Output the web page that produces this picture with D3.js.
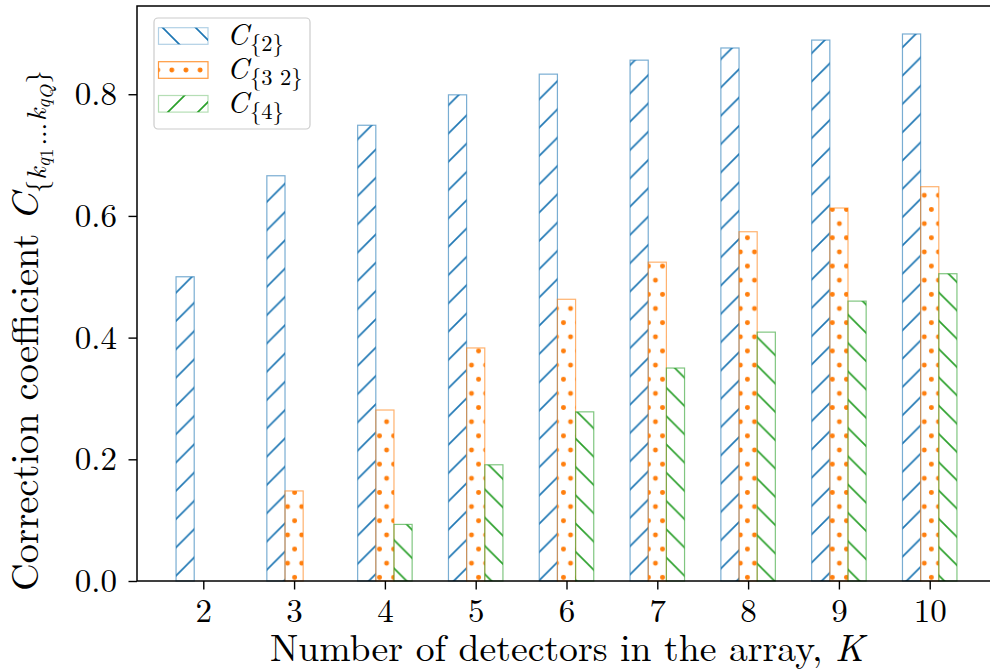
<!DOCTYPE html>
<html>
<head>
<meta charset="utf-8">
<script src="https://cdn.jsdelivr.net/npm/d3@7"></script>
<style>
  body { margin: 0; background: #fff; }
  svg { display: block; }
</style>
</head>
<body>
<script>
// data
var kValues = [2, 3, 4, 5, 6, 7, 8, 9, 10];
var c2 = [0.500, 0.666, 0.749, 0.799, 0.833, 0.856, 0.876, 0.889, 0.899];
var c32 = [0.000, 0.148, 0.281, 0.383, 0.463, 0.524, 0.574, 0.613, 0.648];
var c4 = [0.000, 0.000, 0.093, 0.191, 0.278, 0.350, 0.409, 0.460, 0.505];
var yTicks = [0, 0.2, 0.4, 0.6, 0.8];
var seriesSubs = ["{2}", "{3 2}", "{4}"];
var colors = ["#1f77b4", "#ff7f0e", "#2ca02c"];

var w = 990, h = 671;
var barW = 0.2;
var FONT = "'Latin Modern Roman', 'CMU Serif', 'Liberation Serif', serif";

var svg = d3.select("body").append("svg")
  .attr("width", w)
  .attr("height", h);

var x = d3.scaleLinear().domain([1.27, 10.73]).range([137, 996]);
var y = d3.scaleLinear().domain([0, 0.945]).range([581, 6]);

// hatch patterns
var defs = svg.append("defs");
var P = 28.3;

function lineHatch(id, color, dir, off, per) {
  var pat = defs.append("pattern")
    .attr("id", id)
    .attr("patternUnits", "userSpaceOnUse")
    .attr("width", per).attr("height", per)
    .attr("patternTransform", "translate(" + off + ",0)");
  var d;
  if (dir == "/") {
    d = "M-2,2L2,-2M0," + per + "L" + per + ",0M" + (per - 2) + "," + (per + 2) + "L" + (per + 2) + "," + (per - 2);
  } else {
    d = "M0,0L" + per + "," + per + "M-2," + (per - 2) + "L2," + (per + 2) + "M" + (per - 2) + ",-2L" + (per + 2) + ",2";
  }
  pat.append("path").attr("d", d)
    .attr("stroke", color).attr("stroke-width", 1.7).attr("fill", "none");
}

function dotHatch(id, color, ox, oy) {
  var dx = P / 2, dy = P;
  var pat = defs.append("pattern")
    .attr("id", id)
    .attr("patternUnits", "userSpaceOnUse")
    .attr("width", dx).attr("height", dy)
    .attr("patternTransform", "translate(" + ox + "," + oy + ")");
  [[0, 0], [dx, 0], [0, dy], [dx, dy], [dx / 2, dy / 2]].forEach(function(p) {
    pat.append("circle").attr("cx", p[0]).attr("cy", p[1]).attr("r", 2.4).attr("fill", color);
  });
}

lineHatch("h0", colors[0], "/", 15.9, P);
dotHatch("h1", colors[1], 4.55, 25.5);
lineHatch("h2", colors[2], "\\", 23.8, P);
lineHatch("l0", colors[0], "\\", 3, 33);
dotHatch("l1", colors[1], 2, 70);
lineHatch("l2", colors[2], "/", 10, 30);

// bars
var series = [c2, c32, c4];
series.forEach(function(vals, j) {
  svg.append("g").selectAll("rect")
    .data(vals)
    .enter()
    .append("rect")
    .attr("x", function(d, i) { return x(kValues[i] + (j - 1) * barW - barW / 2); })
    .attr("y", function(d) { return y(d); })
    .attr("width", x(barW) - x(0))
    .attr("height", function(d) { return y(0) - y(d); })
    .attr("fill", "url(#h" + j + ")")
    .attr("stroke", colors[j])
    .attr("stroke-opacity", 0.6)
    .attr("stroke-width", 1.2);
});

// axes
var xAxis = svg.append("g")
  .attr("transform", "translate(0," + y(0) + ")")
  .call(d3.axisBottom(x).tickValues(kValues).tickSize(8.5).tickSizeOuter(0).tickPadding(9));
var yAxis = svg.append("g")
  .attr("transform", "translate(" + x(1.27) + ",0)")
  .call(d3.axisLeft(y).tickValues(yTicks).tickSize(8.5).tickSizeOuter(0).tickPadding(11.5)
    .tickFormat(d3.format(".1f")));

[xAxis, yAxis].forEach(function(a) {
  a.select(".domain").remove();
  a.selectAll("line").attr("stroke", "#000").attr("stroke-width", 1.4);
  a.selectAll("text").style("font-size", "33px").style("font-family", FONT).attr("fill", "#000");
});

// spines
svg.append("rect")
  .attr("x", x(1.27)).attr("y", y(0.945))
  .attr("width", x(10.73) - x(1.27)).attr("height", y(0) - y(0.945))
  .attr("fill", "none").attr("stroke", "#000").attr("stroke-width", 1.5);

function txt(g, t, px, py, size, italic) {
  return g.append("text").attr("x", px).attr("y", py)
    .style("font-family", FONT).style("font-size", size + "px")
    .style("font-style", italic ? "italic" : "normal")
    .text(t);
}

// x label
var xl = svg.append("text").attr("x", 567).attr("y", 661)
  .attr("text-anchor", "middle")
  .style("font-family", FONT).style("font-size", "37.7px");
xl.append("tspan").text("Number of detectors in the array, ");
xl.append("tspan").style("font-style", "italic").text("K");

// y label
var yl = svg.append("g").attr("transform", "translate(0,591) rotate(-90)");
var ylt = yl.append("text").attr("x", 0).attr("y", 38)
  .style("font-family", FONT).style("font-size", "38.5px");
ylt.append("tspan").text("Correction coefficient ");
ylt.append("tspan").style("font-style", "italic").text("C");
ylt.append("tspan").attr("dy", 8).style("font-size", "27px").text("{");
ylt.append("tspan").style("font-size", "27px").style("font-style", "italic").text("k");
ylt.append("tspan").attr("dy", 4).style("font-size", "20px").style("font-style", "italic").text("q");
ylt.append("tspan").attr("dy", 3).style("font-size", "19px").text("1");
ylt.append("tspan").attr("dy", -7).attr("dx", 3).style("font-size", "27px").text("...");
ylt.append("tspan").attr("dx", 2).style("font-size", "27px").style("font-style", "italic").text("k");
ylt.append("tspan").attr("dy", 4).style("font-size", "20px").style("font-style", "italic").text("q");
ylt.append("tspan").attr("dy", 3).style("font-size", "19px").style("font-style", "italic").text("Q");
ylt.append("tspan").attr("dy", -7).attr("dx", 1).style("font-size", "27px").text("}");

// legend
var leg = svg.append("g");
leg.append("rect")
  .attr("x", 154).attr("y", 18).attr("width", 156).attr("height", 111)
  .attr("rx", 4)
  .attr("fill", "#fff").attr("fill-opacity", 0.8)
  .attr("stroke", "#cccccc").attr("stroke-width", 1.2);
var legTops = [27.7, 61.7, 95.5];
seriesSubs.forEach(function(s, j) {
  leg.append("rect")
    .attr("x", 158.5).attr("y", legTops[j]).attr("width", 49.5).attr("height", 16.6)
    .attr("fill", "url(#l" + j + ")")
    .attr("stroke", colors[j]).attr("stroke-opacity", j == 1 ? 0.8 : 0.35).attr("stroke-width", 1.2);
  txt(leg, "C", 227, legTops[j] + 17.5, 30, true);
  txt(leg, s, 250, legTops[j] + 23, 22.5, false);
});
</script>
</body>
</html>
